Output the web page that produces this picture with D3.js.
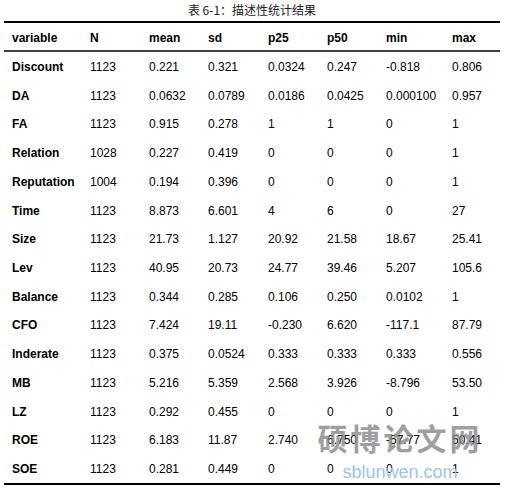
<!DOCTYPE html><html><head><meta charset="utf-8"><script src="https://cdn.jsdelivr.net/npm/d3@7"></script>
<style>body{margin:0;background:#fff}</style></head><body><svg id="c" width="505" height="492"></svg>
<script>
const title="表 6-1：描述性统计结果";
const columns=["variable","N","mean","sd","p25","p50","min","max"];
const variables=["Discount","DA","FA","Relation","Reputation","Time","Size","Lev","Balance","CFO","Inderate","MB","LZ","ROE","SOE"];
const N=["1123","1123","1123","1028","1004","1123","1123","1123","1123","1123","1123","1123","1123","1123","1123"];
const mean=["0.221","0.0632","0.915","0.227","0.194","8.873","21.73","40.95","0.344","7.424","0.375","5.216","0.292","6.183","0.281"];
const sd=["0.321","0.0789","0.278","0.419","0.396","6.601","1.127","20.73","0.285","19.11","0.0524","5.359","0.455","11.87","0.449"];
const p25=["0.0324","0.0186","1","0","0","4","20.92","24.77","0.106","-0.230","0.333","2.568","0","2.740","0"];
const p50=["0.247","0.0425","1","0","0","6","21.58","39.46","0.250","6.620","0.333","3.926","0","6.750","0"];
const min=["-0.818","0.000100","0","0","0","0","18.67","5.207","0.0102","-117.1","0.333","-8.796","0","-57.77","0"];
const max=["0.806","0.957","1","1","1","27","25.41","105.6","1","87.79","0.556","53.50","1","50.41","1"];
const svg=d3.select("#c");
const xs={variable:12,N:90,mean:149,sd:208,p25:268,p50:327,min:386,max:452};
const y=d3.scaleLinear().domain([0,14]).range([67,469]);
const font="'Liberation Sans',Arial,sans-serif";
svg.append("text").attr("x",252).attr("y",15).attr("text-anchor","middle").attr("font-family","'Noto Sans CJK SC'").attr("font-size",12).attr("fill","#222").text(title);
[[22,2],[51,1.3],[484,2]].forEach(([yy,w])=>svg.append("line").attr("x1",4).attr("x2",500).attr("y1",yy).attr("y2",yy).attr("stroke","#000").attr("stroke-width",w));
svg.selectAll("text.h").data(columns).join("text").attr("x",d=>xs[d]).attr("y",42).attr("font-family",font).attr("font-weight","bold").attr("font-size",12).text(d=>d);
const cols={N,mean,sd,p25,p50,min,max};
variables.forEach((v,i)=>{
  svg.append("text").attr("x",xs.variable).attr("y",y(i)+4).attr("font-family",font).attr("font-weight","bold").attr("font-size",12).text(v);
  Object.keys(cols).forEach(k=>svg.append("text").attr("x",xs[k]).attr("y",y(i)+4).attr("font-family",font).attr("font-size",12).text(cols[k][i]));
});
svg.append("text").attr("x",400).attr("y",450).attr("text-anchor","middle").attr("font-family","'Noto Sans CJK SC'").attr("font-weight","bold").attr("font-size",30).attr("fill","#888").attr("opacity",0.8).attr("letter-spacing",3).text("硕博论文网");
svg.append("text").attr("x",400).attr("y",478).attr("text-anchor","middle").attr("font-family",font).attr("font-size",18).attr("fill","#9cc3ee").text("sblunwen.com");
</script></body></html>
